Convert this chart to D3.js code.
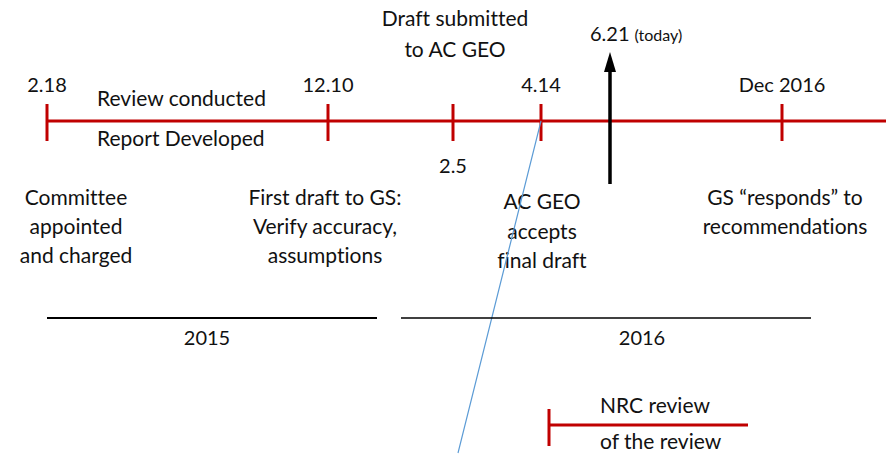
<!DOCTYPE html>
<html>
<head>
<meta charset="utf-8">
<script src="https://cdn.jsdelivr.net/npm/d3@7"></script>
<style>
  body { margin: 0; background: #fff; }
  svg { display: block; font-family: Lato, "Open Sans", sans-serif; font-variant-ligatures: none; }
</style>
</head>
<body>
<div id="chart"></div>
<script>
// timeline positions are in "chart units"
var milestoneDates = ["2.18", "12.10", "2.5", "4.14", "Dec 2016"];
var milestonePos = [47, 328, 453, 541, 782];
var dateAbove = [true, true, false, true, true];

var eventNotes = [
  ["Committee", "appointed", "and charged"],
  ["First draft to GS:", "Verify accuracy,", "assumptions"],
  ["Draft submitted", "to AC GEO"],
  ["AC GEO", "accepts", "final draft"],
  ["GS \u201cresponds\u201d to", "recommendations"]
];
var notePos = [76, 325, 455, 542, 785];

var todayLabel = "6.21";
var todayPos = 610;

var years = ["2015", "2016"];
var yearStart = [47, 401];
var yearEnd = [377, 811];
var yearLabelPos = [207, 642];

var nrcStart = 549, nrcEnd = 748;

var width = 886, height = 454;
var red = "#c00000";
var fs = 21;

var x = d3.scaleLinear().domain([0, 886]).range([0, width]);

var svg = d3.select("#chart").append("svg")
    .attr("width", width)
    .attr("height", height);

var lineY = 121;

// main red timeline
svg.append("line")
    .attr("x1", x(milestonePos[0])).attr("x2", width)
    .attr("y1", lineY).attr("y2", lineY)
    .attr("stroke", red).attr("stroke-width", 3);

svg.selectAll(".tick")
    .data(milestonePos)
    .enter()
    .append("line")
    .attr("x1", function(d) { return x(d); })
    .attr("x2", function(d) { return x(d); })
    .attr("y1", lineY - 17)
    .attr("y2", lineY + 20)
    .attr("stroke", red)
    .attr("stroke-width", 3);

svg.selectAll(".date")
    .data(milestoneDates)
    .enter()
    .append("text")
    .attr("x", function(d, i) { return x(milestonePos[i]); })
    .attr("y", function(d, i) { return dateAbove[i] ? 92 : 173; })
    .attr("text-anchor", "middle")
    .attr("font-size", 20)
    .attr("fill", "#111")
    .text(function(d) { return d; });

// phase labels along the line
svg.append("text")
    .attr("x", 97).attr("y", 106)
    .attr("font-size", fs).attr("fill", "#111")
    .text("Review conducted");
svg.append("text")
    .attr("x", 97).attr("y", 146)
    .attr("font-size", fs).attr("fill", "#111")
    .text("Report Developed");

// multi-line notes
var noteTop = [205, 205, 26, 209, 205];
var noteGap = [29, 29, 31, 29.5, 28.5];

eventNotes.forEach(function(lines, i) {
    var t = svg.append("text")
        .attr("text-anchor", "middle")
        .attr("font-size", fs)
        .attr("fill", "#111");
    lines.forEach(function(s, j) {
        t.append("tspan")
            .attr("x", x(notePos[i]))
            .attr("y", noteTop[i] + j * noteGap[i])
            .text(s);
    });
});

// today arrow
svg.append("line")
    .attr("x1", x(todayPos)).attr("x2", x(todayPos))
    .attr("y1", 184).attr("y2", 70)
    .attr("stroke", "#000").attr("stroke-width", 3.5);
svg.append("path")
    .attr("d", "M" + (x(todayPos) - 6) + ",72L" + x(todayPos) + ",52L" + (x(todayPos) + 6) + ",72Z")
    .attr("fill", "#000");

var today = svg.append("text")
    .attr("x", 590).attr("y", 41)
    .attr("font-size", 20).attr("fill", "#111");
today.append("tspan").text(todayLabel);
today.append("tspan").attr("font-size", 16).attr("dx", 5).text("(today)");

// blue connector from 4.14
svg.append("line")
    .attr("x1", x(milestonePos[3])).attr("y1", lineY)
    .attr("x2", x(458)).attr("y2", 453)
    .attr("stroke", "#5b9bd5").attr("stroke-width", 1.2);

// year bars
svg.selectAll(".year")
    .data(years)
    .enter()
    .append("line")
    .attr("x1", function(d, i) { return x(yearStart[i]); })
    .attr("x2", function(d, i) { return x(yearEnd[i]); })
    .attr("y1", 318).attr("y2", 318)
    .attr("stroke", "#000")
    .attr("stroke-width", function(d, i) { return i === 0 ? 2 : 1.6; });

svg.selectAll(".yearLabel")
    .data(years)
    .enter()
    .append("text")
    .attr("x", function(d, i) { return x(yearLabelPos[i]); })
    .attr("y", 345)
    .attr("text-anchor", "middle")
    .attr("font-size", 20).attr("fill", "#111")
    .text(function(d) { return d; });

// NRC review bar
var nrcY = 425;
svg.append("line")
    .attr("x1", x(nrcStart)).attr("x2", x(nrcEnd))
    .attr("y1", nrcY).attr("y2", nrcY)
    .attr("stroke", red).attr("stroke-width", 3);
svg.append("line")
    .attr("x1", x(nrcStart)).attr("x2", x(nrcStart))
    .attr("y1", nrcY - 16).attr("y2", nrcY + 21)
    .attr("stroke", red).attr("stroke-width", 3);
svg.append("text")
    .attr("x", 600).attr("y", 413)
    .attr("font-size", fs).attr("fill", "#111")
    .text("NRC review");
svg.append("text")
    .attr("x", 600).attr("y", 449)
    .attr("font-size", fs).attr("fill", "#111")
    .text("of the review");
</script>
</body>
</html>
